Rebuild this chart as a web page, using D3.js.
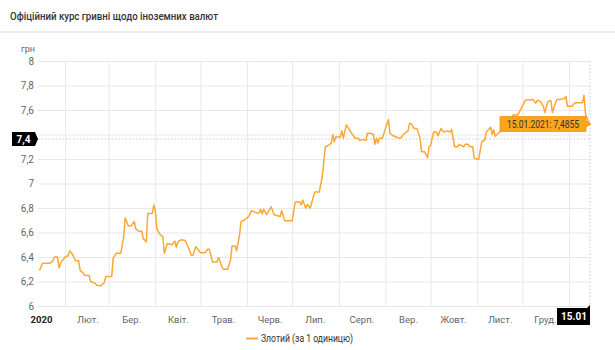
<!DOCTYPE html>
<html>
<head>
<meta charset="utf-8">
<script src="https://cdn.jsdelivr.net/npm/d3@7"></script>
<style>
  body { margin: 0; background: #fff; font-family: Roboto, "Noto Sans", sans-serif; }
  svg { display: block; }
</style>
</head>
<body>
<div id="chart"></div>
<script>
// Zloty rate, UAH per 1 PLN
const dates = [
  "2020-01-15","2020-01-16","2020-01-17","2020-01-22","2020-01-24","2020-01-25","2020-01-27","2020-01-28","2020-01-29",
  "2020-02-01","2020-02-03","2020-02-04","2020-02-06","2020-02-08","2020-02-10","2020-02-11","2020-02-13","2020-02-14",
  "2020-02-17","2020-02-18","2020-02-21","2020-02-22","2020-02-25","2020-02-27","2020-02-28",
  "2020-03-03","2020-03-04","2020-03-06","2020-03-09","2020-03-11","2020-03-12","2020-03-14","2020-03-16","2020-03-18",
  "2020-03-19","2020-03-21","2020-03-23","2020-03-24","2020-03-26","2020-03-27","2020-03-30","2020-03-31",
  "2020-04-01","2020-04-02","2020-04-04","2020-04-06","2020-04-07","2020-04-09","2020-04-12","2020-04-14","2020-04-15",
  "2020-04-16","2020-04-18","2020-04-21","2020-04-23","2020-04-25","2020-04-26","2020-04-28",
  "2020-05-01","2020-05-04","2020-05-06","2020-05-07","2020-05-09","2020-05-12","2020-05-13","2020-05-15","2020-05-16",
  "2020-05-19","2020-05-21","2020-05-22","2020-05-24","2020-05-25","2020-05-27","2020-05-28","2020-05-30",
  "2020-06-02","2020-06-04","2020-06-07","2020-06-09","2020-06-10","2020-06-11","2020-06-12","2020-06-14","2020-06-17",
  "2020-06-19","2020-06-23","2020-06-24","2020-06-26","2020-07-01",
  "2020-07-03","2020-07-06","2020-07-07","2020-07-08","2020-07-10","2020-07-11","2020-07-13","2020-07-16","2020-07-19",
  "2020-07-21","2020-07-23","2020-07-25","2020-07-27","2020-07-28","2020-07-29","2020-07-30",
  "2020-08-02","2020-08-03","2020-08-04","2020-08-06","2020-08-08","2020-08-10","2020-08-12","2020-08-14","2020-08-15",
  "2020-08-17","2020-08-19","2020-08-20","2020-08-22","2020-08-24","2020-08-25","2020-08-26","2020-08-27","2020-08-28","2020-08-30",
  "2020-09-01","2020-09-03","2020-09-04","2020-09-06","2020-09-09","2020-09-11","2020-09-13","2020-09-16","2020-09-17",
  "2020-09-18","2020-09-20","2020-09-22","2020-09-24","2020-09-25","2020-09-27","2020-09-29","2020-09-30",
  "2020-10-01","2020-10-03","2020-10-05","2020-10-06","2020-10-08","2020-10-09","2020-10-10","2020-10-12","2020-10-14",
  "2020-10-15","2020-10-16","2020-10-17","2020-10-19","2020-10-20","2020-10-23","2020-10-24","2020-10-26","2020-10-27",
  "2020-10-29","2020-10-30",
  "2020-11-01","2020-11-02","2020-11-03","2020-11-04","2020-11-06","2020-11-07","2020-11-10","2020-11-11","2020-11-12",
  "2020-11-13","2020-11-14","2020-11-16","2020-11-19","2020-11-23","2020-11-25","2020-11-28",
  "2020-12-01","2020-12-03","2020-12-08","2020-12-10","2020-12-11","2020-12-13","2020-12-15","2020-12-16","2020-12-18",
  "2020-12-20","2020-12-21","2020-12-23","2020-12-24","2020-12-26","2020-12-29","2020-12-30","2020-12-31",
  "2021-01-03","2021-01-05","2021-01-10","2021-01-11","2021-01-12","2021-01-14","2021-01-15"
];
const zloty = [
  6.29,6.32,6.35,6.35,6.37,6.40,6.40,6.31,6.35,
  6.40,6.41,6.45,6.42,6.37,6.37,6.29,6.27,6.25,
  6.25,6.20,6.185,6.17,6.165,6.19,6.24,
  6.24,6.39,6.43,6.43,6.565,6.72,6.655,6.655,6.69,
  6.63,6.61,6.61,6.55,6.525,6.755,6.755,6.825,
  6.78,6.63,6.585,6.565,6.43,6.51,6.50,6.53,6.48,
  6.525,6.54,6.535,6.475,6.415,6.415,6.485,
  6.435,6.435,6.465,6.46,6.36,6.36,6.395,6.33,6.30,
  6.30,6.375,6.49,6.49,6.45,6.58,6.69,6.70,
  6.73,6.78,6.76,6.76,6.79,6.75,6.79,6.745,6.81,
  6.745,6.73,6.78,6.695,6.695,
  6.85,6.85,6.825,6.865,6.80,6.83,6.80,6.93,6.93,
  7.055,7.30,7.31,7.33,7.40,7.34,7.38,
  7.38,7.43,7.37,7.48,7.44,7.40,7.37,7.37,7.35,
  7.36,7.35,7.41,7.41,7.40,7.32,7.37,7.33,7.37,7.37,
  7.45,7.52,7.41,7.39,7.375,7.37,7.40,7.43,7.49,
  7.49,7.45,7.45,7.37,7.26,7.26,7.21,7.30,
  7.31,7.42,7.42,7.39,7.45,7.43,7.42,7.43,7.42,
  7.44,7.37,7.30,7.30,7.32,7.30,7.32,7.32,7.30,
  7.30,7.205,
  7.20,7.195,7.27,7.34,7.355,7.42,7.46,7.40,7.44,
  7.385,7.40,7.42,7.45,7.50,7.56,7.56,
  7.63,7.68,7.685,7.655,7.68,7.67,7.63,7.58,7.67,
  7.675,7.58,7.655,7.685,7.685,7.695,7.71,7.63,
  7.63,7.66,7.66,7.72,7.57,7.50,7.4855
];

const yTicks = [6, 6.2, 6.4, 6.6, 6.8, 7, 7.2, 7.4, 7.6, 7.8, 8];
const monthStarts = ["2020-02-01","2020-03-01","2020-04-01","2020-05-01","2020-06-01","2020-07-01",
  "2020-08-01","2020-09-01","2020-10-01","2020-11-01","2020-12-01","2021-01-01"];
const monthLabels = ["2020","Лют.","Бер.","Квіт.","Трав.","Черв.","Лип.","Серп.","Вер.","Жовт.","Лист.","Груд."];
const labelDates = ["2020-01-16","2020-02-16","2020-03-16","2020-04-16","2020-05-16","2020-06-16",
  "2020-07-16","2020-08-16","2020-09-16","2020-10-16","2020-11-16","2020-12-16"];

const title = "Офіційний курс гривні щодо іноземних валют";
const seriesName = "Злотий (за 1 одиницю)";
const crossValue = 7.363;   // where the horizontal crosshair sits
const crossLabel = "7,4";
const dateLabel = "15.01";
const tooltipText = "15.01.2021: 7,4855";

const W = 615, H = 350;
const plot = {left: 38, right: 590, top: 61, bottom: 306};
const lineColor = "#ffa733";

const parse = d3.timeParse("%Y-%m-%d");
const data = dates.map((d, i) => ({date: parse(d), value: zloty[i]}));

const x = d3.scaleTime()
  .domain([parse("2020-01-14"), parse("2021-01-15")])
  .range([plot.left, plot.right]);
const y = d3.scaleLinear().domain([6, 8]).range([plot.bottom, plot.top]);

const svg = d3.select("#chart").append("svg")
  .attr("width", W)
  .attr("height", H)
  .style("font-family", "Roboto, 'Noto Sans', sans-serif");

// title and separator
svg.append("text")
  .attr("x", 10).attr("y", 20)
  .attr("font-size", 11).attr("font-weight", 500).attr("fill", "#333")
  .attr("textLength", 208).attr("lengthAdjust", "spacingAndGlyphs")
  .text(title);
svg.append("rect")
  .attr("x", 0).attr("y", 31).attr("width", W).attr("height", 2)
  .attr("fill", "#ececec");

// unit
svg.append("text")
  .attr("x", 35).attr("y", 52)
  .attr("text-anchor", "end")
  .attr("font-size", 9).attr("fill", "#666")
  .text("грн");

// y axis + horizontal grid
const yAxis = svg.append("g")
  .attr("transform", `translate(${plot.left},0)`)
  .call(d3.axisLeft(y)
    .tickValues(yTicks)
    .tickSize(-(plot.right - plot.left))
    .tickPadding(4)
    .tickFormat(d => String(d).replace(".", ",")));
yAxis.select(".domain").remove();
yAxis.selectAll("line").attr("stroke", "#e8e8e8");
yAxis.selectAll("text").attr("font-size", 10).attr("fill", "#666").attr("font-family", "Roboto, sans-serif");
// the crosshair label covers the tick label next to it
yAxis.selectAll(".tick").filter(d => Math.abs(y(d) - y(crossValue)) < 10).select("text").remove();

// vertical grid at month starts
const xGrid = svg.append("g")
  .attr("transform", `translate(0,${plot.bottom})`)
  .call(d3.axisBottom(x)
    .tickValues(monthStarts.map(parse))
    .tickSize(-(plot.bottom - plot.top))
    .tickFormat(""));
xGrid.select(".domain").remove();
xGrid.selectAll("line").attr("stroke", "#e8e8e8");

// month labels in the middle of each month
const xLab = svg.append("g")
  .attr("transform", `translate(0,${plot.bottom})`)
  .call(d3.axisBottom(x)
    .tickValues(labelDates.map(parse))
    .tickSize(0)
    .tickPadding(10)
    .tickFormat((d, i) => monthLabels[i]));
xLab.select(".domain").remove();
xLab.selectAll("text")
  .attr("font-size", 9.5)
  .attr("font-family", "Roboto, sans-serif")
  .attr("fill", (d, i) => i === 0 ? "#222" : "#666")
  .attr("font-weight", (d, i) => i === 0 ? "bold" : "normal");

// crosshairs
svg.append("line")
  .attr("x1", plot.left).attr("x2", plot.right)
  .attr("y1", y(crossValue)).attr("y2", y(crossValue))
  .attr("stroke", "#c8c8c8").attr("stroke-dasharray", "1.5,2");
svg.append("line")
  .attr("x1", x(data[data.length - 1].date)).attr("x2", x(data[data.length - 1].date))
  .attr("y1", plot.top).attr("y2", plot.bottom)
  .attr("stroke", "#c8c8c8").attr("stroke-dasharray", "1.5,2");

// the series
const line = d3.line()
  .x(d => x(d.date))
  .y(d => y(d.value));
svg.append("path")
  .datum(data)
  .attr("fill", "none")
  .attr("stroke", lineColor)
  .attr("stroke-width", 1.5)
  .attr("stroke-linejoin", "round")
  .attr("d", line);

// crosshair label on the y axis
const cy = y(crossValue);
svg.append("path")
  .attr("d", `M12,${cy - 7} H35 L38,${cy} L35,${cy + 7} H12 Z`)
  .attr("fill", "#000");
svg.append("text")
  .attr("x", 23.5).attr("y", cy + 3.5)
  .attr("text-anchor", "middle")
  .attr("font-size", 10).attr("font-weight", "bold").attr("fill", "#fff")
  .text(crossLabel);

// crosshair label on the x axis
const last = data[data.length - 1];
const lx = x(last.date);
svg.append("path")
  .attr("d", `M${lx - 33},${plot.bottom + 2} H${lx - 3} L${lx},${plot.bottom - 1} V${plot.bottom + 19} H${lx - 33} Z`)
  .attr("fill", "#000");
svg.append("text")
  .attr("x", lx - 16).attr("y", plot.bottom + 14)
  .attr("text-anchor", "middle")
  .attr("font-size", 10).attr("font-weight", "bold").attr("fill", "#fff")
  .text(dateLabel);

// tooltip for the last point
const ty = y(last.value);
svg.append("path")
  .attr("d", `M${lx - 90},${ty - 7.5} H${lx - 4} V${ty - 3} L${lx + 1},${ty} L${lx - 4},${ty + 3} V${ty + 7.5} H${lx - 90} Z`)
  .attr("fill", "#fca41c")
  .attr("stroke", "#f0960a")
  .attr("stroke-width", 0.8);
svg.append("text")
  .attr("x", lx - 83).attr("y", ty + 3.5)
  .attr("font-size", 10).attr("fill", "#333")
  .attr("textLength", 72).attr("lengthAdjust", "spacingAndGlyphs")
  .text(tooltipText);

// legend
svg.append("line")
  .attr("x1", 246).attr("x2", 258)
  .attr("y1", 338.5).attr("y2", 338.5)
  .attr("stroke", lineColor).attr("stroke-width", 2);
svg.append("text")
  .attr("x", 261).attr("y", 342)
  .attr("font-size", 10).attr("fill", "#333")
  .attr("textLength", 92).attr("lengthAdjust", "spacingAndGlyphs")
  .text(seriesName);
</script>
</body>
</html>
